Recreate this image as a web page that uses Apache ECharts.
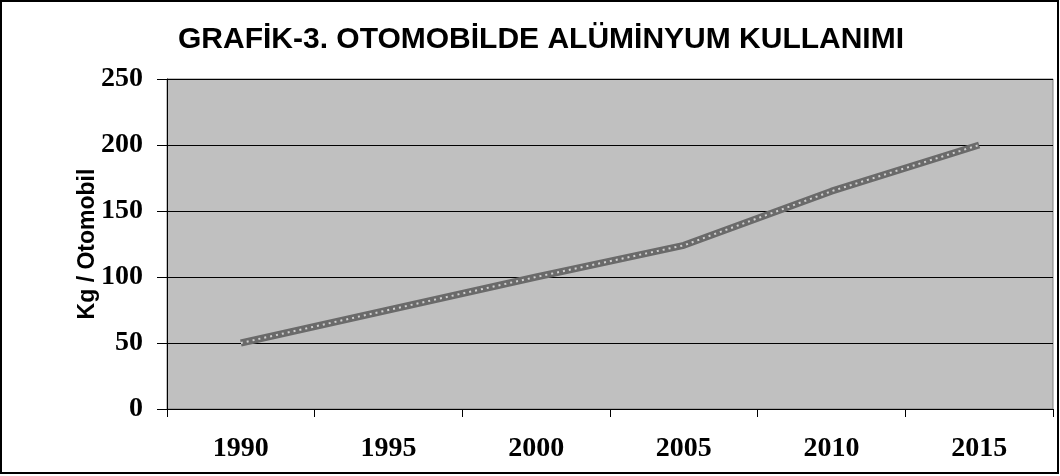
<!DOCTYPE html>
<html>
<head>
<meta charset="utf-8">
<script src="https://cdn.jsdelivr.net/npm/echarts@6/dist/echarts.min.js"></script>
<style>
  html, body { margin: 0; padding: 0; background: #fff; }
  #chart { width: 1060px; height: 476px; }
</style>
</head>
<body>
<div id="chart"></div>
<script>
// veriler
const years = ["1990", "1995", "2000", "2005", "2010", "2015"];
const kgPerCar = [50, 75, 100, 124, 165, 200];

const chartObj = echarts.init(document.getElementById("chart"));
const option = {
  backgroundColor: "#fff",
  animation: false,
  title: {
    text: "GRAFİK-3. OTOMOBİLDE ALÜMİNYUM KULLANIMI",
    left: 536,
    textAlign: "center",
    top: 20,
    textStyle: {
      fontFamily: "Liberation Sans",
      fontWeight: "bold",
      fontSize: 30,
      color: "#000"
    }
  },
  graphic: [
    {
      type: "rect",
      shape: { x: 1, y: 1, width: 1057, height: 472 },
      style: { fill: "none", stroke: "#000", lineWidth: 2 },
      z: 100
    }
  ],
  grid: {
    left: 167,
    right: 7,
    top: 79,
    bottom: 67,
    show: true,
    backgroundColor: "#c0c0c0",
    borderColor: "#808080",
    borderWidth: 1
  },
  xAxis: {
    type: "category",
    data: years,
    boundaryGap: true,
    axisLine: { lineStyle: { color: "#000", width: 1 } },
    axisTick: { show: true, length: 8, interval: 0, lineStyle: { color: "#000" } },
    axisLabel: {
      margin: 26,
      fontFamily: "Liberation Serif",
      fontWeight: "bold",
      fontSize: 28,
      color: "#000"
    }
  },
  yAxis: {
    type: "value",
    min: 0,
    max: 250,
    interval: 50,
    name: "Kg / Otomobil",
    nameLocation: "middle",
    nameRotate: 90,
    nameGap: 68,
    nameMoveOverlap: false,
    nameTextStyle: {
      fontFamily: "Liberation Sans",
      fontWeight: "bold",
      fontSize: 23,
      color: "#000"
    },
    axisLine: { show: true, lineStyle: { color: "#000", width: 1 } },
    axisTick: { show: true, length: 10, lineStyle: { color: "#000" } },
    splitLine: { show: true, lineStyle: { color: "#000", width: 1 } },
    axisLabel: {
      margin: 24,
      fontFamily: "Liberation Serif",
      fontWeight: "bold",
      fontSize: 28,
      color: "#000"
    }
  },
  series: [
    {
      type: "line",
      data: kgPerCar,
      symbol: "none",
      lineStyle: { color: "#6a6a6a", width: 7 },
      z: 3
    },
    {
      // desenli çizgi görünümü için üstte noktalı çizgi
      type: "line",
      data: kgPerCar,
      symbol: "none",
      lineStyle: { color: "#d0d0d0", width: 2, type: [2, 4] },
      z: 4
    }
  ]
};
chartObj.setOption(option);
</script>
</body>
</html>
